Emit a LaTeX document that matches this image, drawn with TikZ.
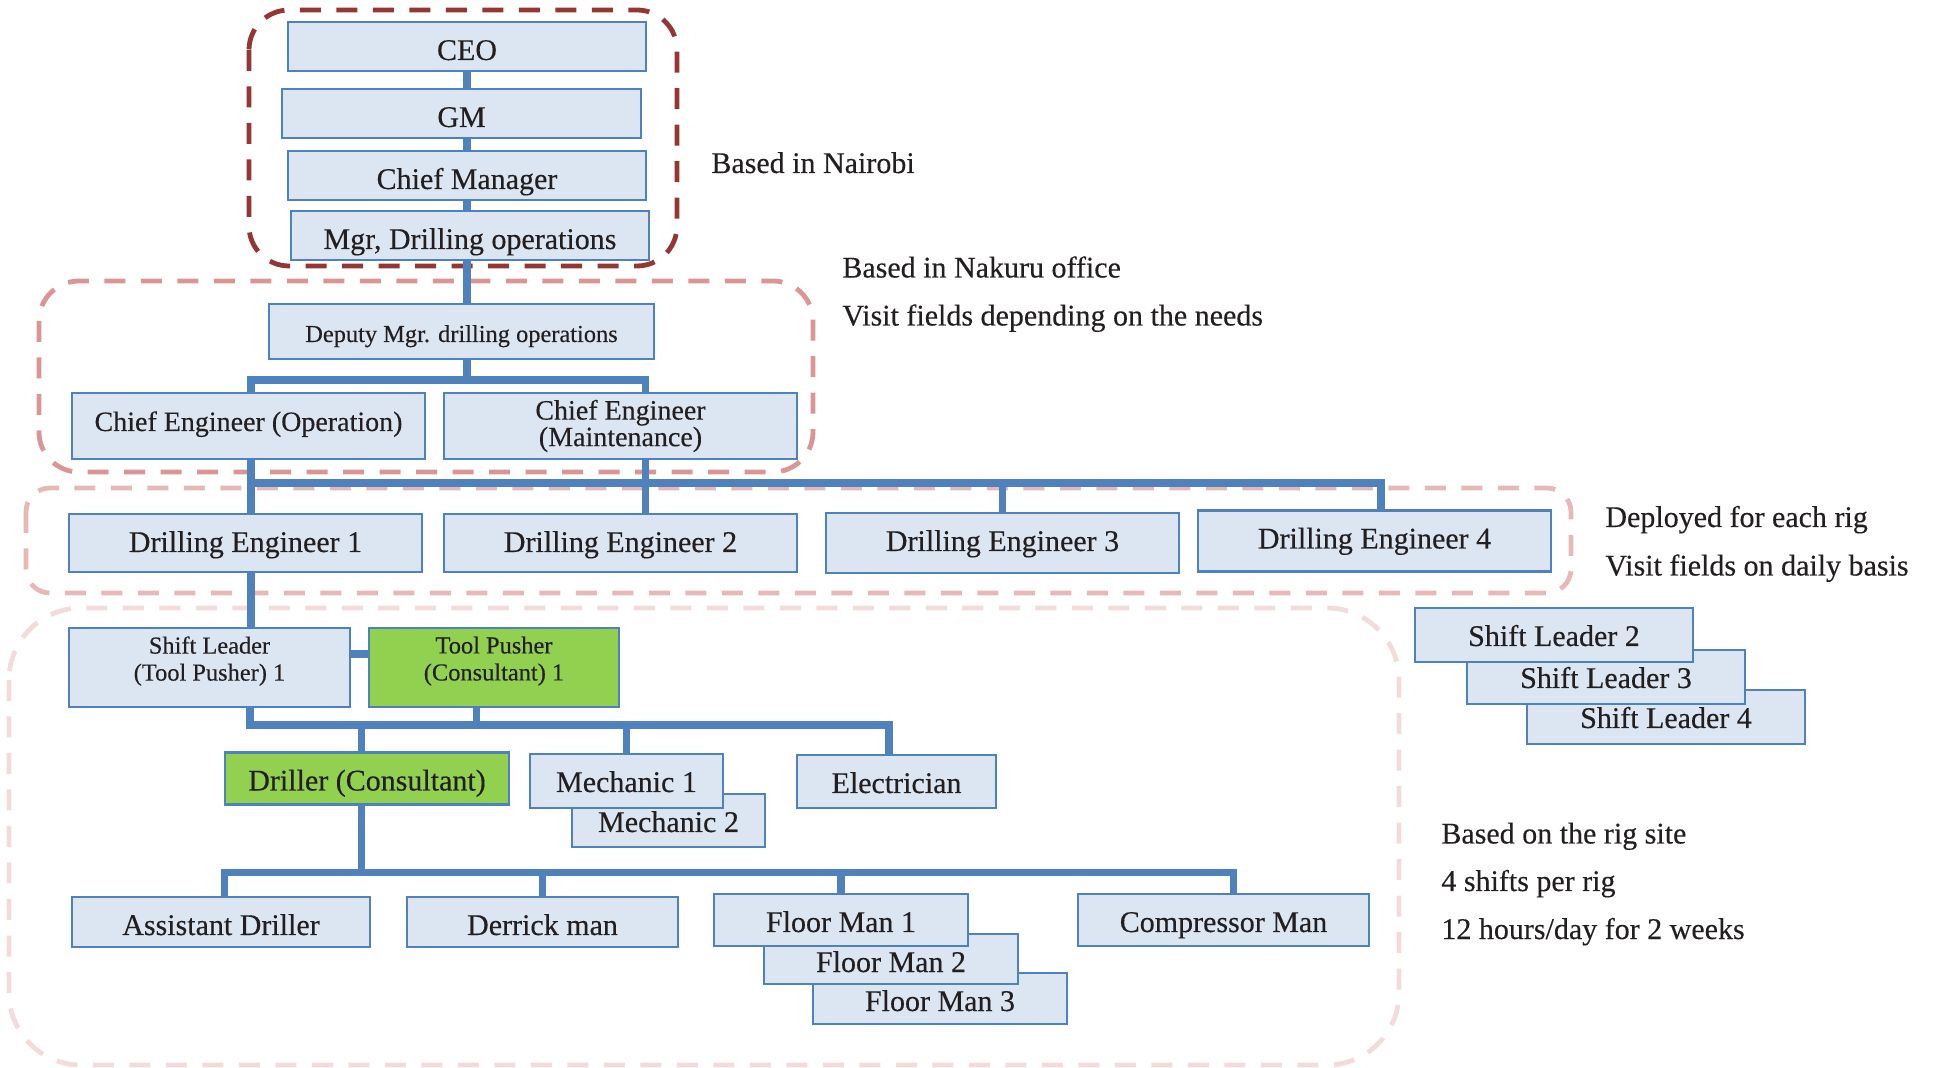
\documentclass[tikz,border=0pt]{standalone}
\usepackage{fontspec}
\setmainfont{Liberation Serif}[FakeBold=0.3]
\usetikzlibrary{backgrounds}
\definecolor{boxfill}{HTML}{DCE6F2}
\definecolor{boxline}{HTML}{4F81BD}
\definecolor{greenfill}{HTML}{92D050}
\definecolor{zoneA}{HTML}{943634}
\definecolor{zoneB}{HTML}{D99694}
\definecolor{zoneC}{HTML}{E6B9B8}
\definecolor{zoneD}{HTML}{F2DCDB}
\definecolor{ink}{HTML}{231F20}
\begin{document}
\begin{tikzpicture}
[ x=0.5pt, y=-0.5pt, text=ink
, post/.style={rectangle, draw=boxline, fill=boxfill, line width=1.4pt, inner sep=0pt, font=\fontsize{15}{18}\selectfont}
, consultant/.style={post, fill=greenfill}
, size/.style 2 args={minimum width=#1*0.5pt, minimum height=#2*0.5pt}
, wh/.style 2 args={size={#1}{#2}, /utils/exec={\pgfmathsetlengthmacro\postht{(76-#2)*0.5pt+2pt}}, text height=\postht, text depth=2pt}
, small/.style={font=\fontsize{12.2}{13.5}\selectfont, align=center}
, twoline/.style={font=\fontsize{14}{13.3}\selectfont, align=center}
, note/.style={anchor=base west, inner sep=0pt, font=\fontsize{15}{18}\selectfont}
, link/.style={draw=boxline, line width=3.75pt}
, zone/.style={line width=2.4pt, dash pattern=on 10.5pt off 7.75pt}
]
\useasboundingbox (0,0) rectangle (1939,1068);
% Nairobi
\node (ceo) [post, wh={358}{49}] at (467,46.5) {CEO};
\node (gm) [post, wh={359}{49}] at (461.5,113.5) {GM};
\node (chiefmgr) [post, wh={358}{49}] at (467,175.5) {Chief Manager};
\node (mgr) [post, wh={358}{49}] at (470,235.5) {Mgr, Drilling operations};
% Nakuru
\node (deputy) [post, small, wh={385}{55}] at (461.5,331.5) {Deputy Mgr. drilling operations};
\node (ceop) [post, wh={353}{66}, font=\fontsize{14}{16}\selectfont] at (248.5,426) {Chief Engineer (Operation)};
\node (cemaint) [post, size={353}{66}, twoline] at (620.5,426) {Chief Engineer\\(Maintenance)};
% drilling engineers
\node (de1) [post, wh={353}{58}] at (245.5,543) {Drilling Engineer 1};
\node (de2) [post, wh={353}{58}] at (620.5,543) {Drilling Engineer 2};
\node (de3) [post, wh={353}{60}] at (1002.5,543) {Drilling Engineer 3};
\node (de4) [post, wh={353}{61}] at (1374.5,541) {Drilling Engineer 4};
% rig site
\node (sl1) [post, size={281}{79}, small, text depth=9pt] at (209.5,667.5) {Shift Leader\\(Tool Pusher) 1};
\node (tp) [consultant, size={250}{79}, small, text depth=9pt] at (494,667.5) {Tool Pusher\\(Consultant) 1};
\node (driller) [consultant, wh={284}{52}] at (367,778.5) {Driller (Consultant)};
\node (mech2) [post, wh={193}{53}] at (668.5,820.5) {Mechanic 2};
\node (mech1) [post, wh={193}{54}] at (626.5,781) {Mechanic 1};
\node (elec) [post, wh={199}{53}] at (896.5,781.5) {Electrician};
\node (asst) [post, wh={298}{50}] at (221,922) {Assistant Driller};
\node (derrick) [post, wh={271}{50}] at (542.5,922) {Derrick man};
\node (fm3) [post, wh={254}{51}] at (940,998.5) {Floor Man 3};
\node (fm2) [post, wh={254}{50}] at (891,959) {Floor Man 2};
\node (fm1) [post, wh={254}{52}] at (841,920) {Floor Man 1};
\node (comp) [post, wh={291}{52}] at (1223.5,920) {Compressor Man};
% other shifts
\node (sl4) [post, wh={278}{54}] at (1666,717) {Shift Leader 4};
\node (sl3) [post, wh={278}{54}] at (1606,677) {Shift Leader 3};
\node (sl2) [post, wh={278}{54}] at (1554,635) {Shift Leader 2};
% notes
\node (nairobi) [note] at (711,173) {Based in Nairobi};
\node (nakuru) [note] at (842,277.5) {Based in Nakuru office};
\node (nakuru2) [note] at (842,325.5) {Visit fields depending on the needs};
\node (deployed) [note] at (1605,527) {Deployed for each rig};
\node (deployed2) [note] at (1605,575.5) {Visit fields on daily basis};
\node (rigsite) [note] at (1441,843.5) {Based on the rig site};
\node (rigsite2) [note] at (1441,891) {4 shifts per rig};
\node (rigsite3) [note] at (1441,939) {12 hours/day for 2 weeks};
% junctions
\coordinate (j1l) at (251,380);
\coordinate (j1r) at (645.6,380);
\coordinate (j2l) at (251,483);
\coordinate (j2r) at (1381,483);
\coordinate (j3l) at (250,725);
\coordinate (j3t) at (476.6,728);
\coordinate (j3d) at (361.6,725);
\coordinate (j3r) at (889,725);
\coordinate (j4l) at (224.5,872.4);
\coordinate (j4r) at (1233.4,872.4);
\begin{scope}[on background layer]
\draw [zone, draw=zoneD, rounded corners=36pt] (9,608) rectangle (1399,1065);
\draw [zone, draw=zoneC, rounded corners=12pt] (26,488) rectangle (1571,593);
\draw [zone, draw=zoneB, rounded corners=20pt] (39,281) rectangle (813,472);
\draw [zone, draw=zoneA, rounded corners=20pt] (249,10) rectangle (677,266);
\draw [link] (ceo.south) -- (ceo.south |- j1l);
\draw [link] (j1l |- ceop.north) -- (j1l) -- (j1r) -- (j1r |- cemaint.north);
\draw [link] (j1l |- ceop.south) -- (j1l |- sl1.north);
\draw [link] (j1r |- cemaint.south) -- (j1r |- de2.north);
\draw [link] (j2l) -- (j2r) -- (j2r |- de4.north);
\draw [link] (de3.north |- j2l) -- (de3.north);
\draw [link] ([yshift=6.75pt]sl1.east) -- ([yshift=6.75pt]tp.west);
\draw [link] (j3l |- sl1.south) -- (j3l) -- (j3r) -- (j3r |- elec.north);
\draw [link] (j3t |- tp.south) -- (j3t);
\draw [link] (j3d) -- (j3d |- driller.north);
\draw [link] (mech1.north |- j3l) -- (mech1.north);
\draw [link] (j3d |- driller.south) -- (j3d |- j4l);
\draw [link] (j4l |- asst.north) -- (j4l) -- (j4r) -- (j4r |- comp.north);
\draw [link] (derrick.north |- j4l) -- (derrick.north);
\draw [link] (fm1.north |- j4l) -- (fm1.north);
\end{scope}
\end{tikzpicture}
\end{document}
